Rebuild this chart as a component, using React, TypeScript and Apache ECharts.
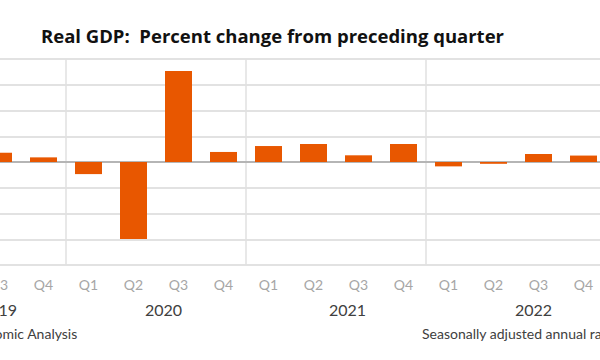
import React, { useEffect, useRef } from "react";
import * as echarts from "echarts";

const quarters = ["Q3", "Q4", "Q1", "Q2", "Q3", "Q4", "Q1", "Q2", "Q3", "Q4", "Q1", "Q2", "Q3", "Q4"];
const years = ["2019", "2019", "2020", "2020", "2020", "2020", "2021", "2021", "2021", "2021", "2022", "2022", "2022", "2022"];
const gdpChange = [3.6, 1.8, -4.7, -29.9, 35.3, 3.9, 6.2, 7.0, 2.6, 7.0, -1.7, -0.7, 3.1, 2.5];
const yTicks = { min: -40, max: 40, interval: 10 };
const titleText = "Real GDP:  Percent change from preceding quarter";
const sourceText = "Source: U.S. Bureau of Economic Analysis";
const noteText = "Seasonally adjusted annual rates";

const FONT = "Lato, 'Open Sans', sans-serif";
const TITLE_FONT = "'Open Sans', sans-serif";

export default function App() {
  const ref = useRef<HTMLDivElement>(null);
  useEffect(() => {
    if (!ref.current) return;
    const chart = echarts.init(ref.current, null, { renderer: "svg" });
    const cats = quarters.map((q, i) => `${years[i]} ${q}`);
    chart.setOption({
      animation: false,
      backgroundColor: "#ffffff",
      title: {
        text: titleText,
        left: 36,
        top: 21,
        textStyle: { fontFamily: TITLE_FONT, fontWeight: "bold", fontSize: 18.5, color: "#111111" },
      },
      grid: { left: -24, right: -6, top: 59, bottom: 95, containLabel: false, outerBoundsMode: "none" },
      xAxis: [
        {
          type: "category",
          data: cats,
          position: "bottom",
          axisLine: { show: false, onZero: false },
          axisTick: { show: false },
          axisLabel: {
            color: "#a6a6a6",
            fontFamily: FONT,
            fontSize: 14,
            margin: 12,
            interval: 0,
            formatter: (_v: string, i: number) => quarters[i],
          },
          splitLine: {
            show: true,
            interval: (i: number) => quarters[i] === "Q1",
            lineStyle: { color: "#e0e0e0", width: 1.5 },
          },
        },
        {
          type: "category",
          data: cats,
          position: "bottom",
          axisLine: { show: true, onZero: true, lineStyle: { color: "#a6a6a6", width: 1.5 } },
          axisTick: { show: false },
          axisLabel: { show: false },
          splitLine: { show: false },
        },
        {
          type: "category",
          data: cats,
          position: "bottom",
          axisLine: { show: false, onZero: false },
          axisTick: { show: false },
          axisLabel: {
            color: "#404040",
            fontFamily: FONT,
            fontSize: 16,
            margin: 36,
            interval: (i: number) => quarters[i] === "Q3",
            formatter: (_v: string, i: number) => `{y${years[i]}|${years[i]}}`,
            rich: {
              y2019: { fontFamily: FONT, fontSize: 16, color: "#404040", padding: [0, 0, 0, 0] },
              y2020: { fontFamily: FONT, fontSize: 16, color: "#404040", padding: [0, 30, 0, 0] },
              y2021: { fontFamily: FONT, fontSize: 16, color: "#404040", padding: [0, 22, 0, 0] },
              y2022: { fontFamily: FONT, fontSize: 16, color: "#404040", padding: [0, 10, 0, 0] },
            },
          },
          splitLine: { show: false },
        },
      ],
      yAxis: {
        type: "value",
        min: yTicks.min,
        max: yTicks.max,
        interval: yTicks.interval,
        axisLabel: { show: false },
        axisLine: { show: false },
        axisTick: { show: false },
        splitLine: { show: true, lineStyle: { color: "#d9d9d9", width: 1.5 } },
      },
      series: [
        {
          type: "bar",
          xAxisIndex: 0,
          data: gdpChange,
          barWidth: "60%",
          itemStyle: { color: "#e85700" },
        },
      ],
      graphic: [
        {
          type: "text",
          right: 522,
          top: 326,
          style: { text: sourceText, font: `14px ${FONT}`, fill: "#404040" },
        },
        {
          type: "text",
          left: 422,
          top: 326,
          style: { text: noteText, font: `14px ${FONT}`, fill: "#404040" },
        },
      ],
    });
    return () => chart.dispose();
  }, []);
  return <div ref={ref} style={{ position: "fixed", left: 0, top: 0, width: 600, height: 360 }} />;
}
